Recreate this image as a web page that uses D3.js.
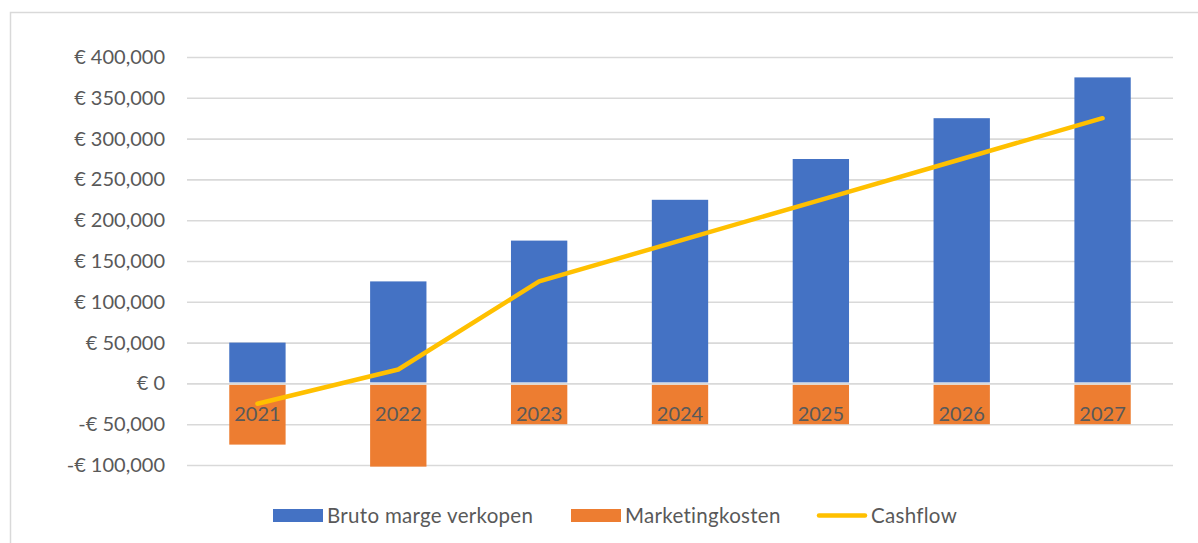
<!DOCTYPE html>
<html>
<head>
<meta charset="utf-8">
<script src="https://cdn.jsdelivr.net/npm/d3@7"></script>
<style>
  body { margin: 0; background: #fff; }
  svg { display: block; font-family: Lato, "Open Sans", sans-serif; }
</style>
</head>
<body>
<svg id="chart" width="1198" height="543"></svg>
<script>
// data
var years = ['2021', '2022', '2023', '2024', '2025', '2026', '2027'];
var brutoMarge = [50000, 125000, 175000, 225000, 275000, 325000, 375000];
var marketingKosten = [-75000, -102000, -50000, -50000, -50000, -50000, -50000];
var cashflow = [-25000, 17000, 125000, 175000, 225000, 275000, 325000];
var yTicks = [-100000, -50000, 0, 50000, 100000, 150000, 200000, 250000, 300000, 350000, 400000];
var legendItems = [
  { name: 'Bruto marge verkopen', color: '#4472C4', type: 'bar' },
  { name: 'Marketingkosten', color: '#ED7D31', type: 'bar' },
  { name: 'Cashflow', color: '#FFC000', type: 'line' }
];

var svg = d3.select('#chart');
var textColor = '#595959';

// outer chart border (only left and top show in the frame)
svg.append('rect')
  .attr('x', 10.5).attr('y', 12.5)
  .attr('width', 1200).attr('height', 560)
  .attr('fill', 'none')
  .attr('stroke', '#D9D9D9')
  .attr('stroke-width', 1.5);

var x = d3.scaleBand()
  .domain(years)
  .range([187, 1173])
  .paddingInner(0.6)
  .paddingOuter(0.3);

var y = d3.scaleLinear()
  .domain([-100000, 400000])
  .range([465, 57]);

function euro(v) {
  var s = '€ ' + d3.format(',')(Math.abs(v));
  return v < 0 ? '-' + s : s;
}

// gridlines + tick labels
var yAxis = d3.axisLeft(y)
  .tickValues(yTicks)
  .tickSize(-(1173 - 187))
  .tickPadding(22)
  .tickFormat(euro);

var gy = svg.append('g')
  .attr('class', 'y-axis')
  .attr('transform', 'translate(187,0)')
  .call(yAxis);
gy.select('.domain').remove();
gy.selectAll('.tick line')
  .attr('stroke', '#D9D9D9')
  .attr('stroke-width', 1.6);
gy.selectAll('.tick text')
  .attr('fill', textColor)
  .attr('font-size', 20)
  .attr('font-family', 'Lato, "Open Sans", sans-serif');

// bars
var zero = y(0);
svg.append('g').selectAll('rect')
  .data(brutoMarge)
  .join('rect')
  .attr('x', function (d, i) { return x(years[i]); })
  .attr('width', x.bandwidth())
  .attr('y', function (d) { return y(d); })
  .attr('height', function (d) { return zero - 1 - y(d); })
  .attr('fill', '#4472C4');

svg.append('g').selectAll('rect')
  .data(marketingKosten)
  .join('rect')
  .attr('x', function (d, i) { return x(years[i]); })
  .attr('width', x.bandwidth())
  .attr('y', zero + 1.5)
  .attr('height', function (d) { return y(d) - zero - 1.5; })
  .attr('fill', '#ED7D31');

// category labels sit next to the zero line
svg.append('g').selectAll('text')
  .data(years)
  .join('text')
  .attr('x', function (d) { return x(d) + x.bandwidth() / 2; })
  .attr('y', 421)
  .attr('text-anchor', 'middle')
  .attr('fill', textColor)
  .attr('font-size', 20)
  .text(function (d) { return d; });

// cashflow line
var line = d3.line()
  .x(function (d, i) { return x(years[i]) + x.bandwidth() / 2; })
  .y(function (d) { return y(d); });

svg.append('path')
  .datum(cashflow)
  .attr('d', line)
  .attr('fill', 'none')
  .attr('stroke', '#FFC000')
  .attr('stroke-width', 4.5)
  .attr('stroke-linecap', 'round')
  .attr('stroke-linejoin', 'round');

// legend
var legendX = [273, 571, 817];
var legend = svg.append('g').attr('class', 'legend');
legendItems.forEach(function (item, i) {
  var g = legend.append('g').attr('transform', 'translate(' + legendX[i] + ',0)');
  if (item.type === 'bar') {
    g.append('rect')
      .attr('x', 0).attr('y', 509)
      .attr('width', 50).attr('height', 13)
      .attr('fill', item.color);
  } else {
    g.append('line')
      .attr('x1', 2).attr('x2', 48)
      .attr('y1', 515.5).attr('y2', 515.5)
      .attr('stroke', item.color)
      .attr('stroke-width', 4.5)
      .attr('stroke-linecap', 'round');
  }
  g.append('text')
    .attr('x', 54)
    .attr('y', 522.5)
    .attr('fill', textColor)
    .attr('font-size', 20.5)
    .attr('letter-spacing', 0.3)
    .text(item.name);
});
</script>
</body>
</html>
